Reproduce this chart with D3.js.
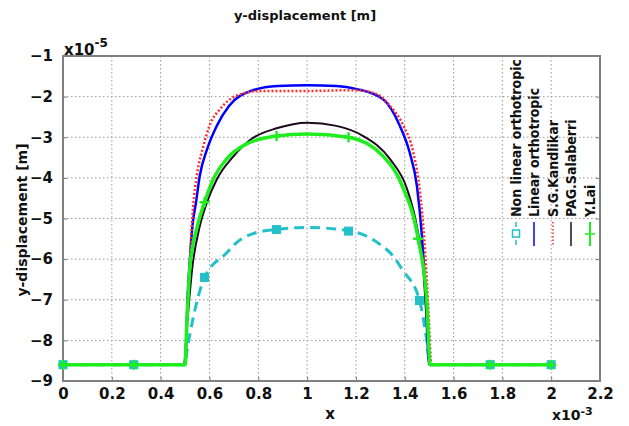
<!DOCTYPE html>
<html>
<head>
<meta charset="utf-8">
<script src="https://cdn.jsdelivr.net/npm/d3@7"></script>
<style>
  body { margin: 0; background: #fff; }
  text { font-family: "DejaVu Sans", Verdana, sans-serif; font-weight: bold; fill: #111; }
</style>
</head>
<body>
<svg id="chart" width="629" height="426"></svg>
<script>
// x in units of 1e-3, y in units of 1e-5
const xTicks = [0, 0.2, 0.4, 0.6, 0.8, 1, 1.2, 1.4, 1.6, 1.8, 2, 2.2];
const yTicks = [-1, -2, -3, -4, -5, -6, -7, -8, -9];

const nonLinearX = [0, 0.29, 0.5, 0.507, 0.535, 0.58, 0.67, 0.71, 0.79, 0.875, 1.0, 1.17, 1.29, 1.353, 1.39, 1.46, 1.49, 1.504, 1.75, 2.0];
const nonLinearY = [-8.6, -8.6, -8.6, -8.3, -7.4, -6.45, -5.85, -5.6, -5.35, -5.27, -5.22, -5.3, -5.6, -5.93, -6.26, -7.0, -7.99, -8.6, -8.6, -8.6];
const nonLinearMarkX = [0, 0.29, 0.58, 0.875, 1.17, 1.46, 1.75, 2.0];
const nonLinearMarkY = [-8.6, -8.6, -6.45, -5.27, -5.31, -7.02, -8.6, -8.6];

const linearX = [0, 0.5, 0.51, 0.52, 0.53, 0.545, 0.56, 0.59, 0.63, 0.68, 0.77, 0.88, 1.0, 1.12, 1.2, 1.31, 1.38, 1.42, 1.45, 1.47, 1.485, 1.5, 2.0];
const linearY = [-8.6, -8.6, -7.0, -6.0, -5.2, -4.6, -3.96, -3.3, -2.72, -2.23, -1.86, -1.74, -1.72, -1.74, -1.81, -2.06, -2.72, -3.37, -4.2, -5.4, -6.8, -8.6, -8.6];

const kandlikarX = [0, 0.5, 0.51, 0.52, 0.533, 0.548, 0.576, 0.6, 0.643, 0.71, 0.81, 1.0, 1.2, 1.285, 1.34, 1.395, 1.435, 1.463, 1.48, 1.495, 1.51, 2.0];
const kandlikarY = [-8.6, -8.6, -7.2, -6.0, -4.7, -3.95, -3.2, -2.72, -2.31, -1.98, -1.86, -1.86, -1.84, -1.94, -2.23, -2.72, -3.37, -4.37, -5.5, -7.0, -8.6, -8.6];

const salaberriX = [0, 0.495, 0.51, 0.53, 0.56, 0.59, 0.63, 0.70, 0.77, 0.875, 1.0, 1.12, 1.23, 1.34, 1.41, 1.45, 1.475, 1.49, 1.505, 2.0];
const salaberriY = [-8.6, -8.6, -7.5, -6.2, -5.2, -4.6, -4.04, -3.46, -3.05, -2.78, -2.64, -2.72, -2.97, -3.54, -4.28, -5.2, -6.2, -7.5, -8.6, -8.6];

const laiX = [0, 0.29, 0.5, 0.506, 0.52, 0.55, 0.58, 0.615, 0.67, 0.75, 0.875, 1.0, 1.17, 1.31, 1.39, 1.455, 1.49, 1.504, 1.75, 2.0];
const laiY = [-8.6, -8.6, -8.6, -7.8, -6.18, -5.2, -4.6, -4.04, -3.54, -3.17, -2.97, -2.92, -3.0, -3.46, -4.2, -5.5, -7.0, -8.6, -8.6, -8.6];
const laiMarkX = [0, 0.29, 0.58, 0.875, 1.17, 1.455, 1.75, 2.0];
const laiMarkY = [-8.6, -8.6, -4.6, -2.97, -3.0, -5.5, -8.6, -8.6];

const legendNames = ["Non linear orthotropic", "Linear orthotropic", "S.G.Kandlikar", "PAG.Salaberri", "Y.Lai"];

const svg = d3.select('#chart');
const pLeft = 63, pRight = 600, pTop = 56, pBottom = 381;

const xScale = d3.scaleLinear().domain([0, 2.2]).range([pLeft, pRight]);
const yScale = d3.scaleLinear().domain([-9, -1]).range([pBottom, pTop]);

// grid
const grid = svg.append('g');
grid.selectAll('.gx').data(xTicks.slice(1, -1)).enter().append('line')
    .attr('x1', d => xScale(d)).attr('x2', d => xScale(d))
    .attr('y1', pTop).attr('y2', pBottom)
    .attr('stroke', '#999').attr('stroke-dasharray', '1.5,2.5');
grid.selectAll('.gy').data(yTicks.slice(1, -1)).enter().append('line')
    .attr('y1', d => yScale(d)).attr('y2', d => yScale(d))
    .attr('x1', pLeft).attr('x2', pRight)
    .attr('stroke', '#999').attr('stroke-dasharray', '1.5,2.5');

// axes
const xAxis = d3.axisBottom(xScale).tickValues(xTicks).tickSize(-4).tickPadding(7).tickFormat(d3.format('~g'));
const yAxis = d3.axisLeft(yScale).tickValues(yTicks).tickSize(-4).tickPadding(10).tickFormat(d3.format('~g'));

svg.append('g').attr('transform', `translate(0,${pBottom})`).call(xAxis)
    .call(g => g.select('.domain').remove())
    .call(g => g.selectAll('line').attr('stroke', '#777'))
    .call(g => g.selectAll('text').style('font-size', '15px').attr('dy', '0.75em'));
svg.append('g').attr('transform', `translate(${pLeft},0)`).call(yAxis)
    .call(g => g.select('.domain').remove())
    .call(g => g.selectAll('line').attr('stroke', '#777'))
    .call(g => g.selectAll('text').style('font-size', '15px'));
// right side ticks
svg.append('g').attr('transform', `translate(${pRight},0)`)
    .call(d3.axisRight(yScale).tickValues(yTicks).tickSize(-4).tickFormat(''))
    .call(g => g.select('.domain').remove())
    .call(g => g.selectAll('line').attr('stroke', '#777'));

svg.append('rect')
    .attr('x', pLeft).attr('y', pTop).attr('width', pRight - pLeft).attr('height', pBottom - pTop)
    .attr('fill', 'none').attr('stroke', '#7f7f7f').attr('stroke-width', 2);

// curves
const line = d3.line().x(d => xScale(d[0])).y(d => yScale(d[1])).curve(d3.curveMonotoneX);
const zip = (xs, ys) => xs.map((x, i) => [x, ys[i]]);

const series = [
    { x: nonLinearX, y: nonLinearY, color: '#22c0c8', width: 3, dash: '10,6' },
    { x: linearX, y: linearY, color: '#0000ff', width: 2.5, dash: null },
    { x: kandlikarX, y: kandlikarY, color: '#ff2a2a', width: 2.5, dash: '2,2' },
    { x: salaberriX, y: salaberriY, color: '#1c0a1c', width: 2, dash: null },
    { x: laiX, y: laiY, color: '#1eee1e', width: 3.5, dash: null }
];

const plot = svg.append('g');

series.forEach((s, i) => {
    plot.append('path')
        .datum(zip(s.x, s.y))
        .attr('fill', 'none')
        .attr('stroke', s.color)
        .attr('stroke-width', s.width)
        .attr('stroke-dasharray', s.dash)
        .attr('d', line);

    if (i == 0) {
        plot.selectAll('.sq').data(zip(nonLinearMarkX, nonLinearMarkY)).enter().append('rect')
            .attr('x', d => xScale(d[0]) - 4).attr('y', d => yScale(d[1]) - 4)
            .attr('width', 8).attr('height', 8)
            .attr('fill', '#22c0c8').attr('stroke', '#22c0c8').attr('stroke-width', 1);
    }
});

// Y.Lai markers
plot.selectAll('.pl').data(zip(laiMarkX, laiMarkY)).enter().append('path')
    .attr('d', d => `M${xScale(d[0]) - 5},${yScale(d[1])}H${xScale(d[0]) + 5}M${xScale(d[0])},${yScale(d[1]) - 5}V${yScale(d[1]) + 5}`)
    .attr('stroke', '#1eee1e').attr('stroke-width', 2.5);

// legend, rotated
const legend = svg.append('g');
const legX = [516, 534, 553, 571, 590];
series.forEach((s, i) => {
    const lx = legX[i];
    legend.append('line')
        .attr('x1', lx).attr('x2', lx).attr('y1', 222).attr('y2', 246)
        .attr('stroke', s.color).attr('stroke-width', i == 4 ? 2 : 1.5)
        .attr('stroke-dasharray', i == 0 ? '5,4' : (i == 2 ? '1.5,2' : null));
    if (i == 0) {
        legend.append('rect').attr('x', lx - 3.5).attr('y', 230).attr('width', 7).attr('height', 7)
            .attr('fill', '#fff').attr('stroke', s.color).attr('stroke-width', 1.5);
    }
    if (i == 4) {
        legend.append('line').attr('x1', lx - 5).attr('x2', lx + 5).attr('y1', 234).attr('y2', 234)
            .attr('stroke', s.color).attr('stroke-width', 1.5);
    }
    legend.append('text')
        .attr('transform', `translate(${lx + 5},217) rotate(-90)`)
        .style('font-family', '"DejaVu Sans Condensed", "DejaVu Sans", sans-serif')
        .style('font-size', '14px')
        .text(legendNames[i]);
});

// titles
svg.append('text').attr('x', 305).attr('y', 20).attr('text-anchor', 'middle')
    .style('font-size', '13px').text('y-displacement [m]');
svg.append('text').attr('x', 330).attr('y', 419).attr('text-anchor', 'middle')
    .style('font-size', '15px').text('x');
svg.append('text').attr('transform', 'translate(27,220) rotate(-90)').attr('text-anchor', 'middle')
    .style('font-size', '14px').text('y-displacement [m]');

// exponent labels
const e5 = svg.append('text').attr('x', 64).attr('y', 55).style('font-size', '15px');
e5.append('tspan').text('x10');
e5.append('tspan').attr('dy', -8).style('font-size', '12px').text('-5');
const e3 = svg.append('text').attr('x', 552).attr('y', 420).style('font-size', '14px');
e3.append('tspan').text('x10');
e3.append('tspan').attr('dy', -5).style('font-size', '11px').text('-3');
</script>
</body>
</html>
